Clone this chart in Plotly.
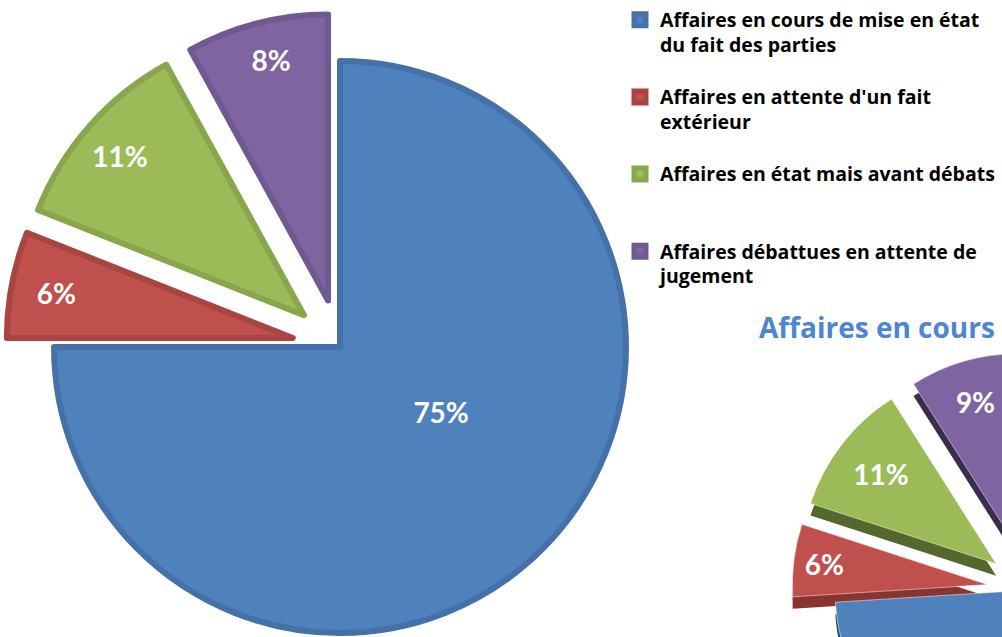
import plotly.graph_objects as go

# ---- data ----
categories = [
    "Affaires en cours de mise en état<br>du fait des parties<br>\u00a0",
    "Affaires en attente d'un fait<br>extérieur<br>\u00a0",
    "Affaires en état mais avant débats<br>\u00a0<br>\u00a0",
    "Affaires débattues en attente de<br>jugement<br>\u00a0",
]
values_main = [75, 6, 11, 8]
values_second = [74, 6, 11, 9]
second_title = "Affaires en cours"

fill_colors = ["#4F81BD", "#C0504D", "#9BBB59", "#8064A2"]
edge_colors = ["#4671A8", "#A84543", "#88A64C", "#705891"]
side_colors = ["#2E4D73", "#8A3432", "#55672C", "#3B2D50"]

W, H = 1300, 900
FONT = "Lato, 'Open Sans', sans-serif"
LEG_FONT = "'Open Sans', Lato, sans-serif"

# legend labels: glyph size set per line, line pitch from legend font size
legend_labels = [
    "<br>".join("<span style='font-size:19.5px'>%s</span>" % part for part in c.split("<br>"))
    for c in categories
]

NB = "\u00a0"
main_templates = [
    "%{percent}<br>" + NB + "<br>" + NB,
    "%{percent}",
    "%{percent}" + NB * 7 + "<br>" + NB,
    "%{percent}<br>" + NB,
]
# the big slice of the second pie lies outside the visible area
second_templates = ["", "%{percent}", "%{percent}", "%{percent}"]


def px_dom(x0, x1, y0, y1):
    return dict(x=[x0 / W, x1 / W], y=[1 - y1 / H, 1 - y0 / H])


fig = go.Figure()

# main pie
fig.add_trace(go.Pie(
    labels=legend_labels, values=values_main, sort=False,
    direction="clockwise", rotation=0,
    pull=[0, 0.168, 0.168, 0.168],
    marker=dict(colors=fill_colors, line=dict(color=edge_colors, width=6)),
    texttemplate=main_templates, textposition="inside",
    insidetextorientation="horizontal",
    textfont=dict(family=FONT, size=28, color="white", weight="bold"),
    domain=px_dom(6, 674, 13, 681),
    showlegend=True,
))

# second pie: dark "side" copy shifted down, then the top face
fig.add_trace(go.Pie(
    labels=legend_labels, values=values_second, sort=False,
    direction="clockwise", rotation=0,
    pull=[0, 0.22, 0.22, 0.22],
    marker=dict(colors=side_colors, line=dict(width=0)),
    textinfo="none", hoverinfo="skip",
    domain=px_dom(792, 1268, 364, 840),
    showlegend=False,
))
fig.add_trace(go.Pie(
    labels=legend_labels, values=values_second, sort=False,
    direction="clockwise", rotation=0,
    pull=[0, 0.22, 0.22, 0.22],
    marker=dict(colors=fill_colors, line=dict(color="white", width=0.5)),
    texttemplate=second_templates, textposition="inside",
    insidetextorientation="horizontal",
    textfont=dict(family=FONT, size=28, color="white", weight="bold"),
    domain=px_dom(792, 1268, 352, 828),
    showlegend=False,
))

fig.add_annotation(
    text=second_title, xref="paper", yref="paper",
    x=757 / W, y=1 - 306 / H, xanchor="left", yanchor="top",
    showarrow=False,
    font=dict(family=LEG_FONT, size=28, color="#4D86CE", weight="bold"),
)

fig.update_layout(
    width=W, height=H,
    margin=dict(l=0, r=0, t=0, b=0),
    paper_bgcolor="white", plot_bgcolor="white",
    uniformtext=dict(minsize=28, mode="show"),
    legend=dict(
        x=620 / W, y=1 - 1 / H, xanchor="left", yanchor="top",
        valign="top", traceorder="normal",
        font=dict(family=LEG_FONT, size=19, color="black", weight="bold"),
        bgcolor="rgba(0,0,0,0)",
    ),
)

fig.write_html(
    "out.html",
    post_script=(
        "document.body.style.margin='0';"
        "document.body.style.overflow='hidden';"
        "document.documentElement.style.overflow='hidden';"
    ),
)
